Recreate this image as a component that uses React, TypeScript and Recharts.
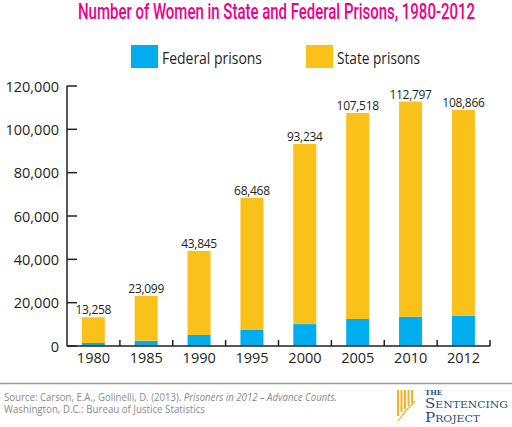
import { BarChart, Bar, XAxis, YAxis, Legend, LabelList } from "recharts";

const years = ["1980", "1985", "1990", "1995", "2000", "2005", "2010", "2012"];
const federal = [1400, 2400, 5100, 7400, 10100, 12500, 13500, 14000];
const state = [11858, 20699, 38745, 61068, 83134, 95018, 99297, 94866];
const totals = [13258, 23099, 43845, 68468, 93234, 107518, 112797, 108866];
const yTicks = [0, 20000, 40000, 60000, 80000, 100000, 120000];

const seriesNames = ["Federal prisons", "State prisons"];
const seriesColors = ["#00aeef", "#fbc11b"];

const ink = "#231f20";
const font = "'Open Sans', sans-serif";

const data = years.map((year, i) => ({
  year,
  federal: federal[i],
  state: state[i],
  total: totals[i],
}));

const fmt = (v: number) => v.toLocaleString("en-US");

const YTick = (props: any) => {
  const { x, y, payload } = props;
  return (
    <g>
      <line x1={x + 8} x2={x + 18} y1={y} y2={y} stroke={ink} strokeWidth={1.5} />
      <text x={x} y={y} dy={5.5} textAnchor="end" fill={ink} fontSize={14.5} fontFamily={font}>
        {fmt(payload.value)}
      </text>
    </g>
  );
};

const XTick = (props: any) => {
  const { x, y, payload, width, visibleTicksCount } = props;
  const half =
    typeof width === "number" && visibleTicksCount ? width / visibleTicksCount / 2 : 26.4;
  return (
    <g>
      <line x1={x + half} x2={x + half} y1={y} y2={y - 6} stroke={ink} strokeWidth={1.5} />
      <text x={x} y={y} dy={17} textAnchor="middle" fill={ink} fontSize={14.5} fontFamily={font}>
        {payload.value}
      </text>
    </g>
  );
};

const renderLegend = () => (
  <svg width={512} height={26} style={{ display: "block" }}>
    {seriesNames.map((name, i) => {
      const x0 = 131 + i * 175;
      return (
        <g key={name}>
          <rect x={x0} y={0} width={27} height={23} fill={seriesColors[i]} />
          <text
            x={x0 + 31}
            y={19}
            fontSize={16.5}
            fontFamily={font}
            fill={ink}
            textLength={i === 0 ? 100 : 83}
            lengthAdjust="spacingAndGlyphs"
          >
            {name}
          </text>
        </g>
      );
    })}
  </svg>
);

const App = () => {
  return (
    <div style={{ position: "absolute", left: 0, top: 0, width: 512, height: 427, background: "#fff" }}>
      <BarChart
        width={512}
        height={427}
        data={data}
        margin={{ top: 60, right: 22, bottom: 51, left: 0 }}
        barCategoryGap="28%"
      >
        <XAxis
          dataKey="year"
          height={30}
          tickSize={0}
          tickMargin={0}
          tick={<XTick />}
          axisLine={{ stroke: ink, strokeWidth: 1.5 }}
        />
        <YAxis
          width={67}
          domain={[0, 120000]}
          ticks={yTicks}
          tickSize={0}
          tickMargin={8}
          tick={<YTick />}
          axisLine={{ stroke: ink, strokeWidth: 1.5 }}
        />
        <Legend
          verticalAlign="top"
          content={renderLegend}
          wrapperStyle={{ top: 45, left: 0, width: 512, height: 26 }}
        />
        <Bar dataKey="federal" stackId="a" fill={seriesColors[0]} name={seriesNames[0]} isAnimationActive={false} />
        <Bar dataKey="state" stackId="a" fill={seriesColors[1]} name={seriesNames[1]} isAnimationActive={false}>
          <LabelList
            dataKey="total"
            position="top"
            offset={3}
            formatter={(v: any) => fmt(Number(v))}
            style={{ fill: ink, fontSize: 12, fontFamily: font, letterSpacing: -0.3 }}
          />
        </Bar>
      </BarChart>

      <svg width={512} height={30} style={{ position: "absolute", left: 0, top: 0 }}>
        <text
          x={78}
          y={19}
          fontSize={22}
          fontWeight={500}
          fontFamily="Roboto, sans-serif"
          fill="#ec008c"
          textLength={397}
          lengthAdjust="spacingAndGlyphs"
        >
          Number of Women in State and Federal Prisons, 1980-2012
        </text>
      </svg>

      <svg width={512} height={50} style={{ position: "absolute", left: 0, top: 377 }}>
        <line x1={0} x2={512} y1={6.5} y2={6.5} stroke="#9a9a9a" strokeWidth={1.5} />
        <text x={4} y={24} fontSize={10} fontFamily={font} fill="#8a8a8a" textLength={333} lengthAdjust="spacingAndGlyphs">
          Source: Carson, E.A., Golinelli, D. (2013). <tspan fontStyle="italic">Prisoners in 2012 – Advance Counts.</tspan>
        </text>
        <text x={4} y={35.5} fontSize={10} fontFamily={font} fill="#8a8a8a" textLength={201} lengthAdjust="spacingAndGlyphs">
          Washington, D.C.: Bureau of Justice Statistics
        </text>
        <g fill="#f0b323">
          <rect x={397} y={13} width={2} height={26} />
          <rect x={400.5} y={13} width={2} height={22} />
          <rect x={404} y={13} width={2} height={19} />
          <rect x={407.5} y={13} width={2} height={16} />
          <rect x={411} y={13} width={2} height={13} />
        </g>
        <path d="M398 44 Q405 34 415 24" stroke="#f0b323" strokeWidth={1.2} fill="none" />
        <text x={425} y={18.2} fontSize={7} fontWeight="bold" fontFamily="'DejaVu Serif', serif" fill="#2b4a7d">
          THE
        </text>
        <text x={425} y={30.5} fontSize={12.5} fontFamily="'DejaVu Serif', serif" fill="#2b4a7d" style={{ fontVariant: "small-caps" }} textLength={83} lengthAdjust="spacingAndGlyphs">
          Sentencing
        </text>
        <text x={425} y={44.7} fontSize={12.5} fontFamily="'DejaVu Serif', serif" fill="#2b4a7d" style={{ fontVariant: "small-caps" }} textLength={55} lengthAdjust="spacingAndGlyphs">
          Project
        </text>
      </svg>
    </div>
  );
};

export default App;
